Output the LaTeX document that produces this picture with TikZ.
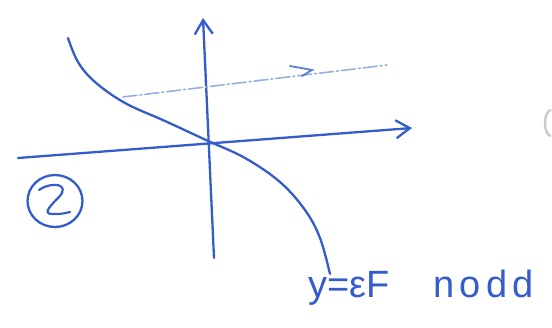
\documentclass[tikz,border=0pt]{standalone}
\usepackage{fontspec}
\setmainfont{Liberation Sans}
\usetikzlibrary{arrows.meta,shapes.geometric}
\definecolor{ink}{RGB}{52,92,205}
\definecolor{faint}{RGB}{150,175,225}
\tikzset{
  pen/.style={draw=ink, line width=2.3pt, line cap=round, line join=round},
  axis/.style={pen, -{Straight Barb[length=14pt,width=18pt,line width=2.3pt]}},
  flow/.style={draw=faint, line width=1.6pt, dash pattern=on 14pt off 3pt on 2pt off 3pt, line cap=round},
  label/.style={text=ink, font=\fontsize{38}{42}\selectfont, inner sep=0pt, anchor=base west}
}
\begin{document}
\begin{tikzpicture}[x=1pt,y=-1pt]
\useasboundingbox (0,0) rectangle (552,327);
% axes
\coordinate (vb) at (214,258);
\coordinate (vt) at (203,18);
\coordinate (hl) at (18,158);
\coordinate (hr) at (412,128);
\draw[axis] (vb) -- (vt);
\draw[axis] (hl) -- (hr);
% faint flow line
\coordinate (fs) at (123,97);
\coordinate (fm) at (312,70);
\coordinate (fe) at (387,65);
\draw[flow] (fs) -- (fe);
\draw[draw=ink!80, line width=1.8pt, line cap=round] (290,66) -- (fm) -- (302,76);
% curve
\draw[pen] plot[smooth, tension=0.6] coordinates {(68,38) (78,62) (95,82) (125,103) (165,121) (206,140) (245,158) (280,182) (305,210) (320,238) (330,274)};
% circled 2
\node[pen, ellipse, minimum width=55pt, minimum height=52pt, inner sep=0pt] (c2) at (55,201) {};
\draw[pen, line width=2.2pt] (39,190) .. controls (52,181) and (71,184) .. (59,197) .. controls (47,209) and (42,215) .. (56,214) .. controls (62,214) and (66,213) .. (70,212);
% label
\node[label] (lbl) at (308,297) {y=εF\hspace{44pt}{\addfontfeature{LetterSpace=14}nodd}};
% faint mark at right edge
\draw[gray!40, line width=2.5pt] (551,110) arc (90:270:6pt and 13pt);
\end{tikzpicture}
\end{document}
